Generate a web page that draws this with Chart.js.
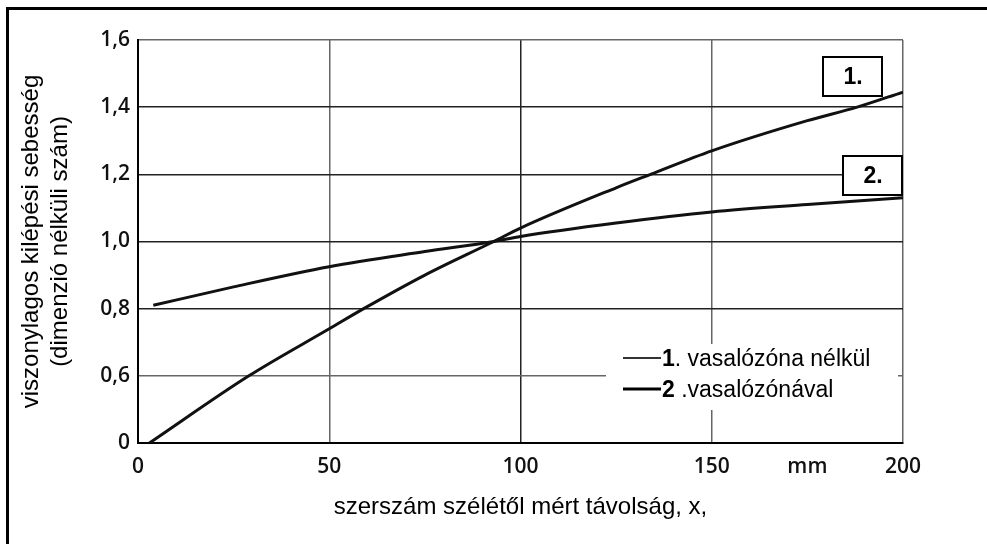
<!DOCTYPE html>
<html>
<head>
<meta charset="utf-8">
<script src="https://cdn.jsdelivr.net/npm/chart.js@4.4.1/dist/chart.umd.min.js"></script>
<style>
  html, body { margin: 0; padding: 0; background: #fff; overflow: hidden; }
  #wrap { position: relative; width: 987px; height: 544px; overflow: hidden; }
  #frame { position: absolute; left: 6px; top: 7px; width: 1000px; height: 600px;
           border-top: 3px solid #000; border-left: 3px solid #000; pointer-events: none; }
  canvas { position: absolute; left: 0; top: 0; }
</style>
</head>
<body>
<div id="wrap">
  <canvas id="chart" width="987" height="544"></canvas>
  <div id="frame"></div>
</div>
<script>
// 1. vasalózóna nélkül
const distance1 = [3, 29, 50, 59, 75, 93, 100, 125, 134, 150, 175, 188, 200];
const speed1 = [0, 0.6, 0.74, 0.8, 0.9, 1.0, 1.04, 1.16, 1.2, 1.27, 1.36, 1.4, 1.445];

// 2. vasalózónával
const distance2 = [4, 25, 50, 75, 93, 100, 125, 150, 175, 200];
const speed2 = [0.81, 0.865, 0.925, 0.97, 1.0, 1.015, 1.055, 1.088, 1.11, 1.13];

const seriesNumbers = ["1", "2"];
const seriesNames = [". vasalózóna nélkül", " .vasalózónával"];
const boxLabels = ["1.", "2."];

const xTicks = [0, 50, 100, 150, 175, 200];
const xTickLabels = ["0", "50", "100", "150", "mm", "200"];
const yTicks = [0, 0.6, 0.8, 1.0, 1.2, 1.4, 1.6];
const yTickLabels = ["0", "0,6", "0,8", "1,0", "1,2", "1,4", "1,6"];

// the y axis is broken: the band 0..0.6 is squeezed into one grid step
function toAxis(v) {
  return v < 0.6 ? 0.4 + v / 3 : v;
}

function points(xs, ys) {
  return xs.map((x, i) => ({ x: x, y: toAxis(ys[i]) }));
}

const sans = "'Liberation Sans', Arial, sans-serif";
const tickFont = "'Open Sans', 'DejaVu Sans', sans-serif";

const overlay = {
  id: "overlay",
  afterDatasetsDraw(chart) {
    const ctx = chart.ctx;
    ctx.save();

    // legend panel
    ctx.fillStyle = "#fff";
    ctx.fillRect(606, 344, 292, 66);
    const rows = [358, 389];
    ctx.textBaseline = "middle";
    ctx.textAlign = "left";
    for (let i = 0; i < 2; i++) {
      ctx.beginPath();
      ctx.strokeStyle = i === 0 ? "#333" : "#000";
      ctx.lineWidth = i === 0 ? 2 : 3;
      ctx.moveTo(623, rows[i]);
      ctx.lineTo(661, rows[i]);
      ctx.stroke();
      ctx.fillStyle = "#000";
      ctx.font = "bold 23px " + sans;
      ctx.fillText(seriesNumbers[i], 662, rows[i] + 2);
      const w = ctx.measureText(seriesNumbers[i]).width;
      ctx.font = "23px " + sans;
      ctx.fillText(seriesNames[i], 662 + w, rows[i] + 2);
    }

    // numbered boxes at the line ends
    const boxes = [[823, 57], [843, 156]];
    ctx.textAlign = "center";
    ctx.font = "bold 23px " + sans;
    boxes.forEach((b, i) => {
      ctx.fillStyle = "#fff";
      ctx.fillRect(b[0], b[1], 59, 39);
      ctx.strokeStyle = "#000";
      ctx.lineWidth = 2;
      ctx.strokeRect(b[0], b[1], 59, 39);
      ctx.fillStyle = "#000";
      ctx.fillText(boxLabels[i], b[0] + 30, b[1] + 21);
    });
    ctx.restore();
  }
};

new Chart(document.getElementById("chart"), {
  type: "line",
  data: {
    datasets: [
      {
        label: "1. vasalózóna nélkül",
        data: points(distance1, speed1),
        borderColor: "#111",
        borderWidth: 3,
        cubicInterpolationMode: "monotone",
        pointRadius: 0
      },
      {
        label: "2 .vasalózónával",
        data: points(distance2, speed2),
        borderColor: "#111",
        borderWidth: 3,
        cubicInterpolationMode: "monotone",
        pointRadius: 0
      }
    ]
  },
  options: {
    responsive: false,
    animation: false,
    devicePixelRatio: 1,
    layout: { padding: { left: 0, top: 40, right: 84, bottom: 0 } },
    plugins: { legend: { display: false }, tooltip: { enabled: false } },
    scales: {
      x: {
        type: "linear",
        min: 0,
        max: 200,
        afterBuildTicks: (s) => { s.ticks = xTicks.map((v) => ({ value: v })); },
        afterFit: (s) => { s.height = 101; },
        ticks: {
          autoSkip: false,
          maxRotation: 0,
          padding: 11,
          color: "#111",
          font: { family: tickFont, size: 21, weight: "600" },
          callback: (v, i) => xTickLabels[i]
        },
        grid: {
          drawTicks: false,
          lineWidth: 1.5,
          color: (c) => {
            const v = c.tick && c.tick.value;
            if (v === 175) return "rgba(0,0,0,0)";
            return v === 100 ? "#222" : "#666";
          }
        },
        border: { color: "#000", width: 2 },
        title: {
          display: true,
          text: "szerszám szélétől mért távolság, x,",
          color: "#000",
          font: { family: sans, size: 24 },
          padding: { top: 0, bottom: 22 }
        }
      },
      y: {
        type: "linear",
        min: 0.4,
        max: 1.6,
        afterBuildTicks: (s) => { s.ticks = yTicks.map((v) => ({ value: toAxis(v) })); },
        afterFit: (s) => { s.width = 138; },
        ticks: {
          padding: 8,
          color: "#111",
          font: { family: tickFont, size: 21, weight: "600" },
          callback: (v, i) => yTickLabels[i]
        },
        grid: {
          drawTicks: false,
          lineWidth: 1.5,
          color: (c) => {
            const v = c.tick && c.tick.value;
            return v > 1.59 || Math.abs(v - 0.6) < 0.01 ? "#666" : "#222";
          }
        },
        border: { color: "#000", width: 2 },
        title: {
          display: true,
          text: ["viszonylagos kilépési sebesség", "(dimenzió nélküli szám)"],
          color: "#000",
          font: { family: sans, size: 24 },
          padding: { top: 17, bottom: 0 }
        }
      }
    }
  },
  plugins: [overlay]
});
</script>
</body>
</html>
